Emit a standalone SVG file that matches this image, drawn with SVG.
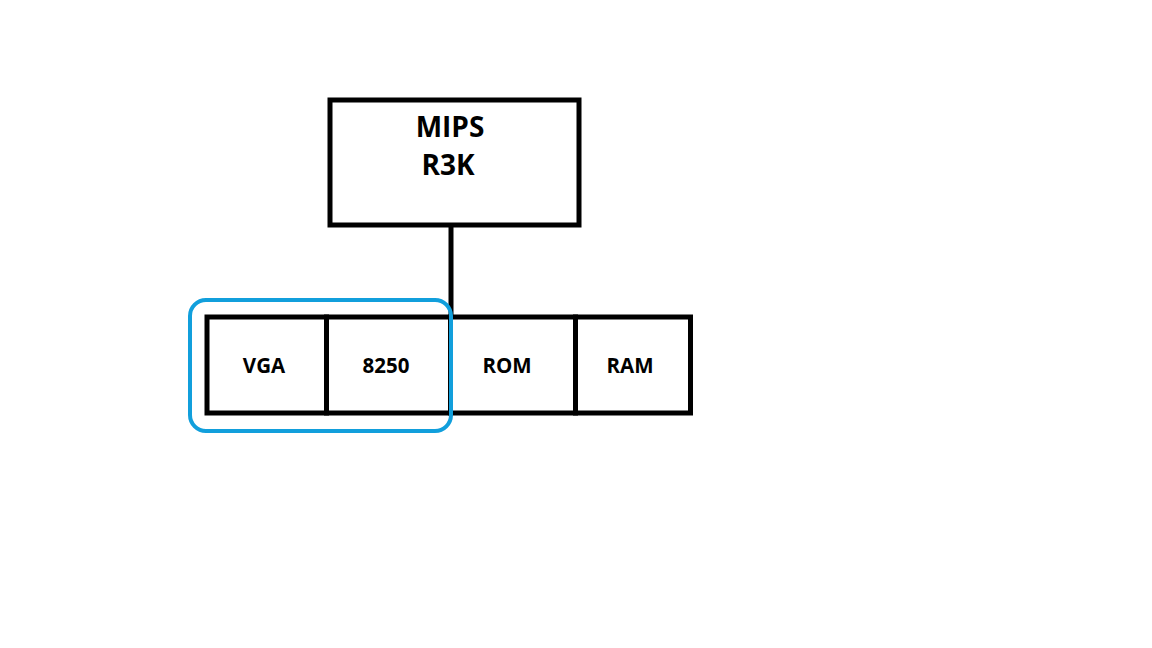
<svg xmlns="http://www.w3.org/2000/svg" width="1152" height="648" viewBox="0 0 1152 648">
<style>
.box{fill:#fff;stroke:#000;stroke-width:5}
.t{font-family:"Open Sans","Liberation Sans",sans-serif;font-weight:bold;fill:#000;text-anchor:middle}
.big{font-size:28px}
.sm{font-size:20.5px}
.line{stroke:#000;stroke-width:5;fill:none}
</style>
<rect width="1152" height="648" fill="#fff"/>
<g id="connectors">
<line class="line" x1="451" y1="226" x2="451" y2="317"/>
</g>
<g id="mips">
<rect class="box" x="330" y="100" width="249" height="125"/>
<text class="t big" x="450" y="137">MIPS</text>
<text class="t big" x="448" y="175">R3K</text>
</g>
<g id="vga">
<rect class="box" x="207" y="317" width="119.5" height="96"/>
<text class="t sm" x="264" y="373">VGA</text>
</g>
<g id="n8250">
<rect class="box" x="326.5" y="317" width="124" height="96"/>
<text class="t sm" x="386" y="373">8250</text>
</g>
<g id="rom">
<rect class="box" x="450.5" y="317" width="125" height="96"/>
<text class="t sm" x="507" y="373">ROM</text>
</g>
<g id="ram">
<rect class="box" x="575.5" y="317" width="115" height="96"/>
<text class="t sm" x="630" y="373">RAM</text>
</g>
<g id="group-highlight">
<rect x="190" y="300" width="261" height="131" rx="16" fill="none" stroke="#119fdc" stroke-width="4"/>
</g>
</svg>
